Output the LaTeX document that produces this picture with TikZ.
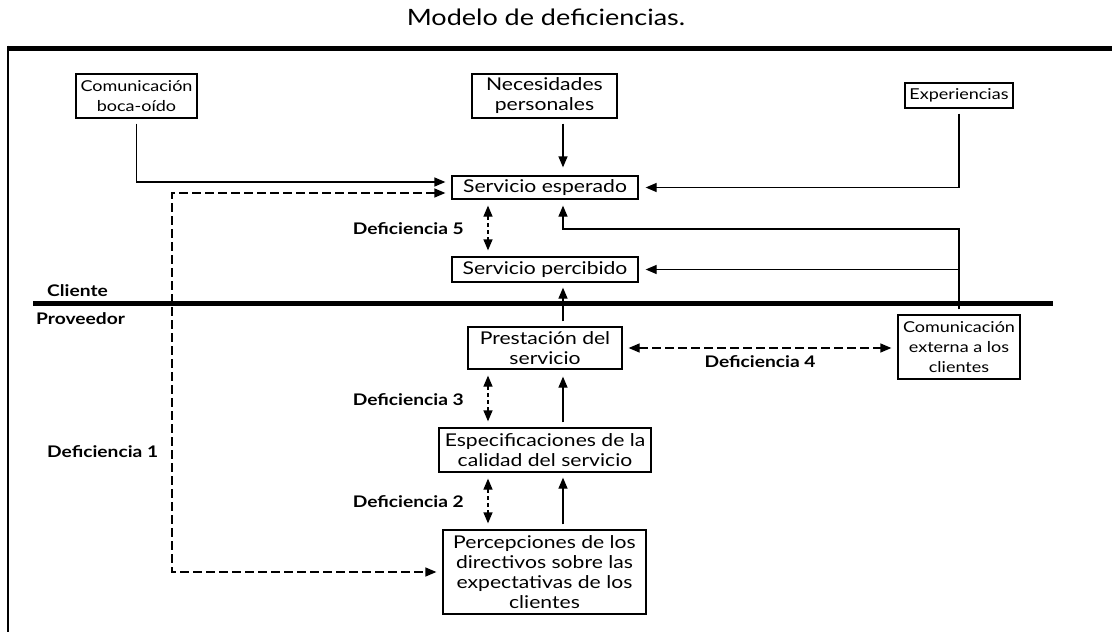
\documentclass[tikz,border=0pt]{standalone}
\usepackage{fontspec}
\setmainfont{Lato}[FakeStretch=1.2]
\usetikzlibrary{arrows.meta}
\begin{document}
\begin{tikzpicture}[x=1pt,y=-1pt,
  box/.style={draw, line width=1.3pt, inner sep=0pt, align=center,
    font=\fontsize{17.6}{20}\selectfont},
  smallbox/.style={box, font=\fontsize{15}{20}\selectfont},
  conn/.style={line width=1.3pt, -{Triangle[length=11pt,width=9pt]}},
  gapline/.style={line width=1.3pt, dash pattern=on 9pt off 4pt,
    {Triangle[length=11pt,width=9pt]}-{Triangle[length=11pt,width=9pt]},
    shorten <=6pt, shorten >=6pt},
  shortgap/.style={gapline, dash pattern=on 4pt off 3pt},
  lab/.style={font=\bfseries\fontsize{16}{18}\selectfont, inner sep=0pt},
  rule/.style={line width=5pt}
]
\useasboundingbox (0,0) rectangle (1112,632);

% title
\node[font=\fontsize{22.5}{24}\selectfont, inner sep=0pt] (title) at (546,17) {Modelo de deficiencias.};

% frame and rules
\draw[rule] (8,48) -- (1112,48);
\draw[line width=1.5pt] (8,45.5) -- (8,632);
\draw[rule] (33,303) -- (1053,303);

% boxes
\node[smallbox, minimum width=121pt, minimum height=44pt] (boca) at (136.5,96) {Comunicación\\boca-oído};
\node[box, minimum width=145pt, minimum height=44pt] (nec) at (544.5,96) {Necesidades\\personales};
\node[smallbox, minimum width=108pt, minimum height=25pt] (exp) at (959,95.5) {Experiencias};
\node[box, minimum width=186pt, minimum height=23pt] (esp) at (545,187.5) {Servicio esperado};
\node[box, minimum width=186pt, minimum height=25pt] (per) at (545,269.5) {Servicio percibido};
\node[box, minimum width=154pt, minimum height=42pt] (pres) at (545,348) {Prestación del\\servicio};
\node[smallbox, minimum width=122pt, minimum height=64pt] (ext) at (959,347) {Comunicación\\externa a los\\clientes};
\node[box, minimum width=212pt, minimum height=44pt] (espec) at (545,450) {Especificaciones de la\\calidad del servicio};
\node[box, minimum width=203pt, minimum height=84pt] (percep) at (544.5,572) {Percepciones de los\\directivos sobre las\\expectativas de los\\clientes};

% labels
\node[lab, anchor=west] (cli) at (47,291) {Cliente};
\node[lab, anchor=west] (prov) at (36,319) {Proveedor};
\node[lab, anchor=east] (d5) at (464,229) {Deficiencia 5};
\node[lab, anchor=east] (d3) at (464,400) {Deficiencia 3};
\node[lab, anchor=east] (d2) at (464,502) {Deficiencia 2};
\node[lab, anchor=west] (d1) at (47,452) {Deficiencia 1};
\node[lab] (d4) at (760,362) {Deficiencia 4};

% helper coordinates
\coordinate (vx) at (563,0);
\coordinate (vd) at (488,0);
\coordinate (h1) at (563,229);
\coordinate (dl) at (172,380);

% solid connectors
\draw[conn, shorten <=5pt, shorten >=6pt] (boca.south) |- ([yshift=5.5pt]esp.west);
\draw[conn, shorten <=5pt, shorten >=8pt] (nec.south -| vx) -- (esp.north -| vx);
\draw[conn, shorten <=5pt, shorten >=7pt] (exp.south) |- (esp.east);
\draw[conn, shorten <=5pt, shorten >=6pt] (ext.north) |- (h1) -- (esp.south -| vx);
\draw[conn, shorten >=7pt] (ext.north |- per.east) -- (per.east);
\draw[conn, shorten <=5pt, shorten >=5pt] (pres.north -| vx) -- (per.south -| vx);
\draw[conn, shorten <=5pt, shorten >=7pt] (espec.north -| vx) -- (pres.south -| vx);
\draw[conn, shorten <=5pt, shorten >=5pt] (percep.north -| vx) -- (espec.south -| vx);

% gaps (dashed double arrows)
\draw[gapline] ([yshift=-5.5pt]esp.west) -| (dl) |- (percep.west);
\draw[shortgap] (esp.south -| vd) -- (per.north -| vd);
\draw[shortgap] (pres.south -| vd) -- (espec.north -| vd);
\draw[shortgap] (espec.south -| vd) -- (percep.north -| vd);
\draw[gapline] (pres.east) -- (pres.east -| ext.west);
\end{tikzpicture}
\end{document}
